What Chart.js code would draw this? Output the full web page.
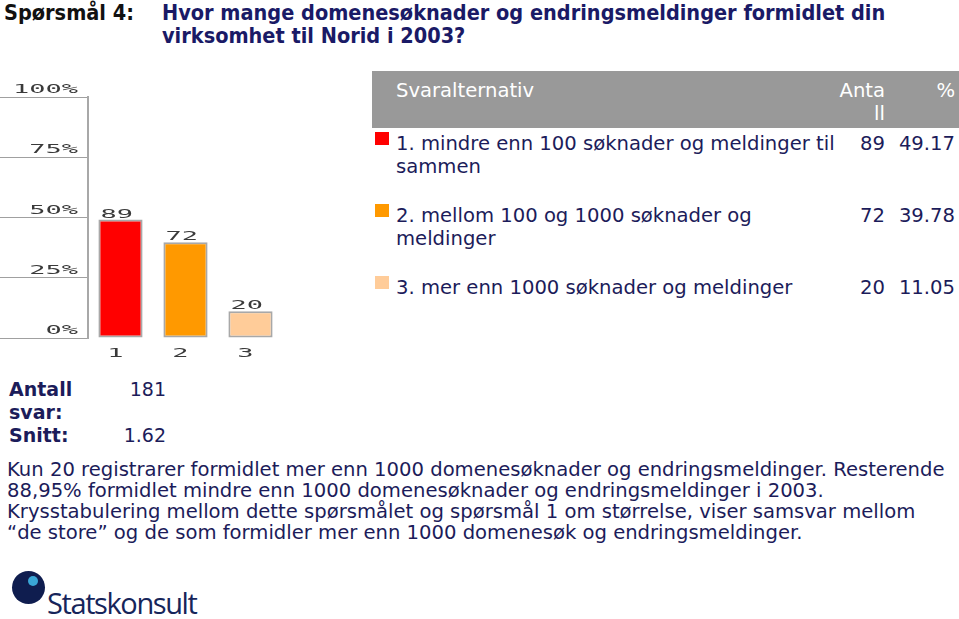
<!DOCTYPE html>
<html>
<head>
<meta charset="utf-8">
<script src="https://cdn.jsdelivr.net/npm/chart.js@4.4.0/dist/chart.umd.min.js"></script>
<style>
  body { margin: 0; width: 959px; height: 619px; background: #fff; position: relative; overflow: hidden; font-family: "DejaVu Sans", Verdana, sans-serif; }
  .abs { position: absolute; }
  #q { left: 4px; top: 1px; font-weight: bold; font-stretch: condensed; font-size: 21.5px; line-height: 23px; color: #111; }
  #title { left: 162px; top: 1px; font-weight: bold; font-stretch: condensed; font-size: 21.5px; line-height: 23px; color: #1a1a66; white-space: nowrap; }
  #chartBox { left: 0; top: 70px; width: 300px; height: 300px; }
  #tbl { left: 372px; top: 71px; width: 587px; color: #1c1c5a; font-size: 19.6px; line-height: 23px; }
  #head { background: #999; color: #fff; height: 57px; position: relative; }
  #head .c1 { position: absolute; left: 24px; top: 8px; }
  #head .c2 { position: absolute; right: 74px; top: 8px; text-align: right; }
  #head .c3 { position: absolute; right: 4px; top: 8px; }
  #rows { position: relative; padding-top: 4px; }
  .row { position: relative; margin-bottom: 26px; min-height: 23px; }
  .sq { position: absolute; left: 3px; top: 0; width: 14px; height: 13px; }
  .lbl { margin-left: 24px; width: 452px; }
  .n { position: absolute; right: 74px; top: 0; }
  .p { position: absolute; right: 4px; top: 0; }
  #stats { left: 9px; top: 378px; color: #1c1c5a; font-size: 19px; line-height: 23px; }
  #stats b { display: inline-block; width: 80px; vertical-align: top; }
  #stats .v { position: absolute; right: 0; top: 0; font-weight: normal; }
  #para { left: 7px; top: 459px; width: 952px; color: #1c1c5a; font-size: 19.6px; line-height: 21px; white-space: nowrap; }
  #logo { left: 12px; top: 571px; width: 33px; height: 33px; border-radius: 50%; background: #0f1d4f; }
  #logoDot { left: 28px; top: 576px; width: 10px; height: 10px; border-radius: 50%; background: #3aa6d6; }
  #logoTxt { left: 47px; top: 588px; font-family: "Open Sans", sans-serif; font-size: 29px; line-height: 30px; letter-spacing: -1.4px; color: #16255a; }
</style>
</head>
<body>
<div id="q" class="abs">Spørsmål 4:</div>
<div id="title" class="abs">Hvor mange domenesøknader og endringsmeldinger formidlet din<br>virksomhet til Norid i 2003?</div>

<div id="chartBox" class="abs"><canvas id="bars" width="300" height="300"></canvas></div>

<div id="tbl" class="abs">
  <div id="head">
    <div class="c1">Svaralternativ</div>
    <div class="c2">Anta<br>ll</div>
    <div class="c3">%</div>
  </div>
  <div id="rows"></div>
</div>

<div id="stats" class="abs" style="width:157px">
  <div style="position:relative"><b>Antall svar:</b><span class="v" id="totalTxt"></span></div>
  <div style="position:relative"><b>Snitt:</b><span class="v" id="meanTxt"></span></div>
</div>

<div id="para" class="abs">Kun 20 registrarer formidlet mer enn 1000 domenesøknader og endringsmeldinger. Resterende<br>88,95% formidlet mindre enn 1000 domenesøknader og endringsmeldinger i 2003.<br>Krysstabulering mellom dette spørsmålet og spørsmål 1 om størrelse, viser samsvar mellom<br>“de store” og de som formidler mer enn 1000 domenesøk og endringsmeldinger.</div>

<div id="logo" class="abs"></div>
<div id="logoDot" class="abs"></div>
<div id="logoTxt" class="abs">Statskonsult</div>

<script>
// data
const categories = ["1", "2", "3"];
const answerLabels = [
  "1. mindre enn 100 søknader og meldinger til sammen",
  "2. mellom 100 og 1000 søknader og meldinger",
  "3. mer enn 1000 søknader og meldinger"
];
const counts = [89, 72, 20];
const percents = [49.17, 39.78, 11.05];
const yTicks = [0, 25, 50, 75, 100];
const barColors = ["#ff0000", "#ff9900", "#ffcc99"];
const totalAnswers = 181;
const meanValue = "1.62";

// table rows
const rowsEl = document.getElementById("rows");
answerLabels.forEach((txt, i) => {
  const r = document.createElement("div");
  r.className = "row";
  r.innerHTML = '<div class="sq" style="background:' + barColors[i] + '"></div>' +
    '<div class="lbl">' + txt + '</div>' +
    '<div class="n">' + counts[i] + '</div>' +
    '<div class="p">' + percents[i].toFixed(2) + '</div>';
  rowsEl.appendChild(r);
});
document.getElementById("totalTxt").textContent = totalAnswers;
document.getElementById("meanTxt").textContent = meanValue;

// stretched "pixel" looking text like the old chart image
function pixText(ctx, text, x, y, align) {
  ctx.save();
  ctx.font = "12px 'DejaVu Sans Mono'";
  ctx.fillStyle = "#3a3a3a";
  ctx.textBaseline = "alphabetic";
  const sx = 2.25;
  const w = ctx.measureText(text).width * sx;
  let left = x;
  if (align === "right") left = x - w;
  if (align === "center") left = x - w / 2;
  ctx.translate(left, y);
  ctx.scale(sx, 1);
  ctx.fillText(text, 0, 0);
  ctx.restore();
}

const pixLabels = {
  id: "pixLabels",
  afterDraw(chart) {
    const ctx = chart.ctx;
    const ys = chart.scales.y;
    yTicks.forEach((v) => {
      pixText(ctx, v + "%", 78, ys.getPixelForValue(v) - 4, "right");
    });
    const meta = chart.getDatasetMeta(0);
    meta.data.forEach((bar, i) => {
      pixText(ctx, String(counts[i]), bar.x - bar.width / 2 + 2, bar.y - 2, "left");
      pixText(ctx, categories[i], bar.x - 5, chart.chartArea.bottom + 19, "center");
    });
  }
};

new Chart(document.getElementById("bars").getContext("2d"), {
  type: "bar",
  data: {
    labels: categories,
    datasets: [{
      data: percents,
      backgroundColor: barColors,
      borderColor: "#a8a8a8",
      borderWidth: 2,
      borderSkipped: false,
      barPercentage: 0.68,
      categoryPercentage: 1
    }]
  },
  options: {
    responsive: false,
    animation: false,
    layout: { padding: { top: 27, right: 17, left: 0, bottom: 0 } },
    plugins: { legend: { display: false }, tooltip: { enabled: false } },
    scales: {
      x: {
        grid: { display: false },
        border: { display: false },
        ticks: { display: false },
        afterFit: (s) => { s.height = 32; }
      },
      y: {
        min: 0,
        max: 100,
        ticks: { stepSize: 25, display: false },
        grid: { drawOnChartArea: false, drawTicks: true, tickLength: 88, color: "#a0a0a0", lineWidth: 1 },
        border: { color: "#a8a8a8", width: 2 },
        afterFit: (s) => { s.width = 88; }
      }
    }
  },
  plugins: [pixLabels]
});
</script>
</body>
</html>
